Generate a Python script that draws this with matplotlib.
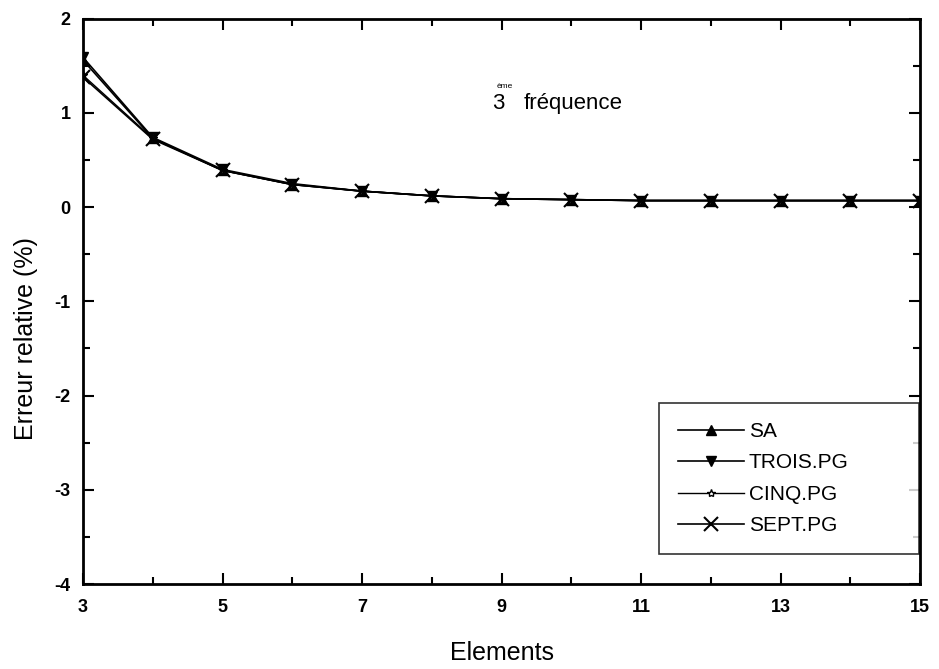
import matplotlib
matplotlib.use("Agg")
import matplotlib.pyplot as plt
from matplotlib.ticker import MultipleLocator

plt.rcParams['font.family'] = ['Liberation Sans', 'DejaVu Sans']
plt.rcParams['axes.unicode_minus'] = False

# data
elements = [3, 4, 5, 6, 7, 8, 9, 10, 11, 12, 13, 14, 15]
sa = [1.56, 0.73, 0.39, 0.24, 0.17, 0.12, 0.09, 0.08, 0.07, 0.07, 0.07, 0.07, 0.07]
trois_pg = [1.59, 0.74, 0.40, 0.25, 0.17, 0.12, 0.09, 0.08, 0.07, 0.07, 0.07, 0.07, 0.07]
cinq_pg = [1.40, 0.73, 0.39, 0.24, 0.17, 0.12, 0.09, 0.08, 0.07, 0.07, 0.07, 0.07, 0.07]
sept_pg = [1.38, 0.72, 0.39, 0.24, 0.17, 0.12, 0.09, 0.08, 0.07, 0.07, 0.07, 0.07, 0.07]
xticks = [3, 5, 7, 9, 11, 13, 15]

fig = plt.figure(figsize=(9.39, 6.69), dpi=100)
ax = fig.add_axes([0.0884, 0.127, 0.8916, 0.845])

ax.plot(elements, sa, color='black', lw=1.2, marker='^', ms=7, label='SA')
ax.plot(elements, trois_pg, color='black', lw=1.2, marker='v', ms=7, label='TROIS.PG')
ax.plot(elements, cinq_pg, color='black', lw=1.0, marker='*', ms=6,
        mfc='white', mec='black', mew=1.0, label='CINQ.PG')
ax.plot(elements, sept_pg, color='black', lw=1.2, marker='x', ms=10, mew=1.5,
        label='SEPT.PG')

ax.set_xlim(3, 15)
ax.set_ylim(-4, 2)
ax.set_xticks(xticks)
ax.xaxis.set_minor_locator(MultipleLocator(1))
ax.yaxis.set_major_locator(MultipleLocator(1))
ax.yaxis.set_minor_locator(MultipleLocator(0.5))
ax.tick_params(which='both', direction='in', top=True, right=True, width=1.5)
ax.tick_params(which='major', length=8, labelsize=13)
ax.tick_params(axis='x', which='major', pad=11)
ax.tick_params(axis='y', which='major', pad=9)
ax.tick_params(which='minor', length=5)
for lab in ax.get_xticklabels() + ax.get_yticklabels():
    lab.set_fontweight('bold')
for sp in ax.spines.values():
    sp.set_linewidth(2)

ax.set_xlabel('Elements', fontsize=18, labelpad=18)
ax.set_ylabel('Erreur relative (%)', fontsize=18)
ax.yaxis.set_label_coords(-0.054, 0.435)

ax.text(8.86, 1.04, '3', fontsize=16, ha='left', va='baseline')
ax.text(8.93, 1.27, 'ème', fontsize=6, ha='left', va='baseline')
ax.text(9.31, 1.04, 'fréquence', fontsize=16, ha='left', va='baseline')

leg = ax.legend(loc='lower left', bbox_to_anchor=(0.688, 0.053, 0.31, 0.273),
                mode='expand', fontsize=15, frameon=True, fancybox=False,
                edgecolor='black', handlelength=3.2, borderpad=0.9,
                labelspacing=0.6, handletextpad=0.2, borderaxespad=0)
leg.get_frame().set_linewidth(1.2)

fig.savefig('out.png', dpi=100)
